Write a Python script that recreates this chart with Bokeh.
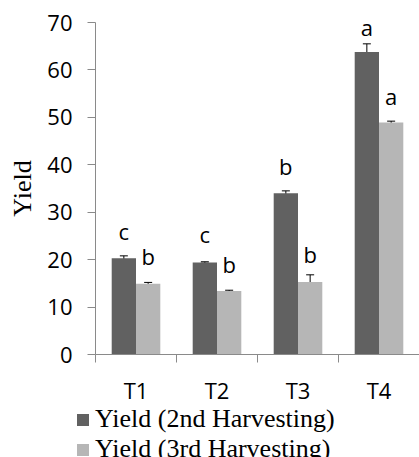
from bokeh.plotting import figure
from bokeh.models import (ColumnDataSource, FixedTicker, Whisker, TeeHead, Legend,
                          LegendItem, Range1d, LabelSet)
from bokeh.core.properties import value
from bokeh.embed import file_html
from bokeh.resources import INLINE

categories = ["T1", "T2", "T3", "T4"]
yield_2nd = [20.3, 19.4, 34.0, 63.8]
err_2nd = [0.5, 0.15, 0.5, 1.7]
yield_3rd = [14.9, 13.4, 15.3, 48.9]
err_3rd = [0.3, 0.15, 1.5, 0.3]
letters_2nd = ["c", "c", "b", "a"]
letters_3rd = ["b", "b", "b", "a"]
letter_y_2nd = [24.2, 23.5, 37.8, 67.2]
letter_y_3rd = [18.9, 17.2, 19.3, 52.6]
y_ticks = [0, 10, 20, 30, 40, 50, 60, 70]
series_names = ["Yield (2nd Harvesting)", "Yield (3rd Harvesting)"]

DARK = "#616161"
LIGHT = "#b6b6b6"
AXIS = "#8a8a8a"
BAR_W = 0.3

centers = [i + 0.5 for i in range(len(categories))]


def make_source(vals, errs, letters, letter_y, shift):
    xs = [c + shift for c in centers]
    return ColumnDataSource(dict(
        x=xs, top=vals,
        upper=[v + e for v, e in zip(vals, errs)],
        lower=[v - e for v, e in zip(vals, errs)],
        letter=letters, letter_y=letter_y,
    ))


src2 = make_source(yield_2nd, err_2nd, letters_2nd, letter_y_2nd, -BAR_W / 2)
src3 = make_source(yield_3rd, err_3rd, letters_3rd, letter_y_3rd, BAR_W / 2)

p = figure(width=419, height=407, x_range=Range1d(0, len(categories)),
           y_range=Range1d(0, 70), output_backend="svg", toolbar_location=None,
           min_border_left=95, min_border_right=0, min_border_top=22,
           min_border_bottom=52)
p.outline_line_color = None
p.xgrid.visible = False
p.ygrid.visible = False

r2 = p.vbar(x="x", top="top", width=BAR_W, source=src2, fill_color=DARK, line_color=None)
r3 = p.vbar(x="x", top="top", width=BAR_W, source=src3, fill_color=LIGHT, line_color=None)

for src in (src2, src3):
    w = Whisker(source=src, base="x", upper="upper", lower="lower",
                line_color="black", line_width=1,
                upper_head=TeeHead(size=8, line_color="black", line_width=1),
                lower_head=TeeHead(size=8, line_color="black", line_width=1))
    p.add_layout(w)
    ls = LabelSet(source=src, x="x", y="letter_y", text="letter", text_align="center",
                  text_baseline="alphabetic", text_font=value("Open Sans"),
                  text_font_size="22px", text_color="black")
    p.add_layout(ls)

# x axis
xa = p.xaxis[0]
xa.ticker = FixedTicker(ticks=centers, minor_ticks=list(range(len(categories) + 1)))
xa.major_label_overrides = {c: name for c, name in zip(centers, categories)}
xa.major_tick_line_color = None
xa.major_tick_out = 0
xa.major_tick_in = 0
xa.minor_tick_out = 8
xa.minor_tick_in = 0
xa.minor_tick_line_color = AXIS
xa.axis_line_color = AXIS
xa.major_label_standoff = 12
xa.major_label_text_font = "Open Sans"
xa.major_label_text_font_size = "22px"
xa.major_label_text_color = "black"

# y axis
ya = p.yaxis[0]
ya.ticker = FixedTicker(ticks=y_ticks, minor_ticks=[])
ya.major_tick_out = 8
ya.major_tick_in = 0
ya.major_tick_line_color = AXIS
ya.axis_line_color = AXIS
ya.major_label_standoff = 15
ya.major_label_text_font = "Open Sans"
ya.major_label_text_font_size = "22px"
ya.major_label_text_color = "black"
ya.axis_label = "Yield"
ya.axis_label_text_font = "Liberation Serif"
ya.axis_label_text_font_size = "26px"
ya.axis_label_text_font_style = "normal"
ya.axis_label_text_color = "black"
ya.axis_label_standoff = 7

# legend panel below the chart (separate root, so its frame starts at the left edge)
pl = figure(width=419, height=50, x_range=Range1d(0, 1), y_range=Range1d(0, 1),
            output_backend="svg", toolbar_location=None,
            x_axis_location=None, y_axis_location=None,
            min_border_left=0, min_border_right=0, min_border_top=0, min_border_bottom=0)
pl.outline_line_color = None
pl.xgrid.visible = False
pl.ygrid.visible = False
lr2 = pl.vbar(x="x", top="top", width=BAR_W, source=src2, fill_color=DARK, line_color=None, visible=False)
lr3 = pl.vbar(x="x", top="top", width=BAR_W, source=src3, fill_color=LIGHT, line_color=None, visible=False)

legend = Legend(items=[LegendItem(label=series_names[0], renderers=[lr2]),
                       LegendItem(label=series_names[1], renderers=[lr3])],
                location=(75, -7), orientation="vertical")
legend.glyph_width = 15
legend.glyph_height = 15
legend.label_standoff = 5
legend.label_text_font = "Liberation Serif"
legend.label_text_font_size = "26px"
legend.label_text_color = "black"
legend.padding = 0
legend.margin = 0
legend.spacing = 0
legend.border_line_color = None
legend.background_fill_alpha = 0
legend.inactive_fill_alpha = 0
pl.add_layout(legend, "center")

open("out.html", "w").write(file_html([p, pl], INLINE))
